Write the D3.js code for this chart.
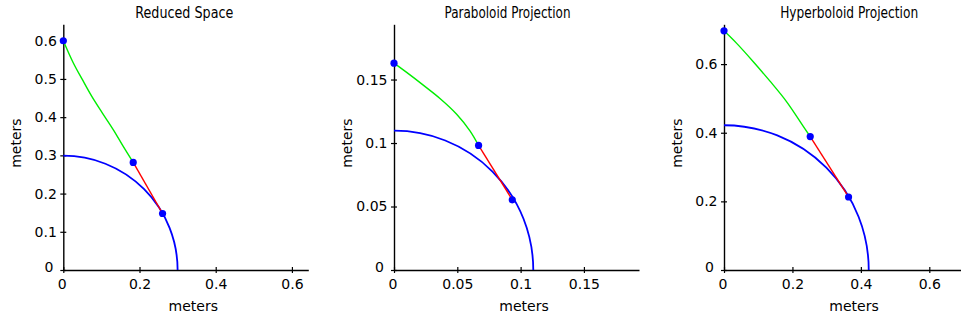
<!DOCTYPE html>
<html>
<head>
<meta charset="utf-8">
<script src="https://cdn.jsdelivr.net/npm/d3@7"></script>
<style>
  body { margin: 0; background: #fff; }
  text { font-family: "DejaVu Sans", sans-serif; font-size: 14px; fill: #000; }
  .title { font-family: "DejaVu Sans Condensed", "DejaVu Sans", sans-serif; font-stretch: condensed; font-size: 15px; }
</style>
</head>
<body>
<div id="chart"></div>
<script>
// chart values
var titles = ["Reduced  Space", "Paraboloid Projection", "Hyperboloid Projection"];
var axisMax = [0.643, 0.1935, 0.716];
var radii = [0.3, 0.11, 0.423];
var xTicks = [[0, 0.2, 0.4, 0.6], [0, 0.05, 0.1, 0.15], [0, 0.2, 0.4, 0.6]];
var yTicks = [[0, 0.1, 0.2, 0.3, 0.4, 0.5, 0.6], [0, 0.05, 0.1, 0.15], [0, 0.2, 0.4, 0.6]];

// green curve (top point -> middle point)
var green1 = [[0, 0.6], [0.026, 0.5425], [0.0498, 0.4987], [0.0744, 0.4549], [0.1022, 0.4113], [0.131, 0.3675], [0.1573, 0.3236], [0.1835, 0.2816]];
var green2 = [[0, 0.1629], [0.01, 0.1556], [0.0231, 0.1456], [0.0363, 0.1351], [0.0495, 0.1227], [0.06, 0.1096], [0.0668, 0.0981]];
var green3 = [[0, 0.697], [0.0371, 0.6604], [0.0856, 0.607], [0.1344, 0.5503], [0.1832, 0.4901], [0.2317, 0.4188], [0.252, 0.3887]];
// red segment (middle point -> point on circle)
var red1 = [[0.1835, 0.2816], [0.2605, 0.1478]];
var red2 = [[0.0668, 0.0981], [0.0934, 0.0553]];
var red3 = [[0.252, 0.3887], [0.364, 0.2128]];
// blue dots
var dots1 = [[0, 0.6], [0.1835, 0.2816], [0.2605, 0.1478]];
var dots2 = [[0, 0.1629], [0.0668, 0.0981], [0.0934, 0.0553]];
var dots3 = [[0, 0.697], [0.252, 0.3887], [0.364, 0.2128]];

var greens = [green1, green2, green3];
var reds = [red1, red2, red3];
var dots = [dots1, dots2, dots3];

// layout
var panelLeft = [63.3, 394, 724];
var titleX = [184.3, 507.5, 849.2];
var titleLen = [98, 126, 138];
var plotTop = 24.3, plotW = 245, plotH = 245.7;

var svg = d3.select("#chart").append("svg")
    .attr("width", 961)
    .attr("height", 325);

titles.forEach(function(title, i) {
  var g = svg.append("g").attr("transform", "translate(" + panelLeft[i] + "," + plotTop + ")");

  var xScale = d3.scaleLinear().domain([0, axisMax[i]]).range([0, plotW]);
  var yScale = d3.scaleLinear().domain([0, axisMax[i]]).range([plotH, 0]);

  var xAxis = d3.axisBottom(xScale).tickValues(xTicks[i]).tickFormat(function(d) { return String(d); })
      .tickSizeInner(3).tickSizeOuter(0).tickPadding(6);
  var yAxis = d3.axisLeft(yScale).tickValues(yTicks[i]).tickFormat(function(d) { return String(d); })
      .tickSizeInner(3).tickSizeOuter(0).tickPadding(3.5);

  var gx = g.append("g").attr("transform", "translate(0," + plotH + ")").call(xAxis);
  var gy = g.append("g").call(yAxis);

  // ticks cross the axis line
  gx.selectAll(".tick line").attr("y1", -3).attr("y2", 3);
  gy.selectAll(".tick line").attr("x1", -3).attr("x2", 3);
  [gx, gy].forEach(function(a) {
    a.attr("font-family", null).attr("font-size", null);
    a.select(".domain").attr("stroke", "#000").attr("stroke-width", 1.4);
    a.selectAll(".tick line").attr("stroke", "#000").attr("stroke-width", 1.2);
  });
  gx.selectAll(".tick text").filter(function(d) { return d === 0; }).attr("dx", "-1.5");
  gy.selectAll(".tick text").filter(function(d) { return d === 0; }).attr("dx", "-3.5").attr("dy", "0.1em");

  // quarter circle
  var p = d3.path();
  p.arc(xScale(0), yScale(0), xScale(radii[i]) - xScale(0), -Math.PI / 2, 0);
  g.append("path").attr("d", p.toString())
      .attr("fill", "none").attr("stroke", "#0000ff").attr("stroke-width", 1.8);

  var line = d3.line()
      .x(function(d) { return xScale(d[0]); })
      .y(function(d) { return yScale(d[1]); });

  g.append("path").attr("d", line.curve(d3.curveCatmullRom)(greens[i]))
      .attr("fill", "none").attr("stroke", "#00ee00").attr("stroke-width", 1.4);
  g.append("path").attr("d", line.curve(d3.curveLinear)(reds[i]))
      .attr("fill", "none").attr("stroke", "#ff0000").attr("stroke-width", 1.4);

  g.selectAll("circle.dot").data(dots[i]).enter().append("circle")
      .attr("class", "dot")
      .attr("cx", function(d) { return xScale(d[0]); })
      .attr("cy", function(d) { return yScale(d[1]); })
      .attr("r", 3.6)
      .attr("fill", "#0000ff");

  // labels
  g.append("text").attr("x", plotW / 2 + 7.5).attr("y", plotH + 41.5)
      .attr("text-anchor", "middle").text("meters");
  g.append("text").attr("transform", "rotate(-90)")
      .attr("x", -(plotH / 2 - 4)).attr("y", -42.5)
      .attr("text-anchor", "middle").text("meters");

  svg.append("text").attr("class", "title")
      .attr("x", titleX[i] - titleLen[i] / 2).attr("y", 18)
      .attr("textLength", titleLen[i]).attr("lengthAdjust", "spacingAndGlyphs")
      .text(title);
});
</script>
</body>
</html>
